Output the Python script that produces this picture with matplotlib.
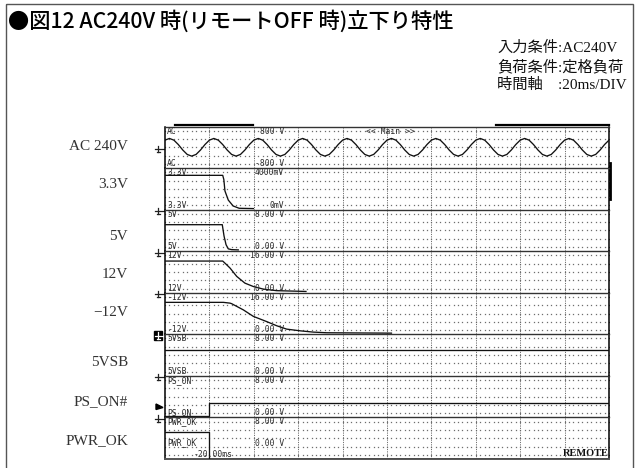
import matplotlib
matplotlib.use("Agg")
import matplotlib.pyplot as plt
from matplotlib.patches import Rectangle, Polygon
import numpy as np

# ---------------- data ----------------
time_range_ms = (-20, 180)          # 10 div x 20 ms/div
division_ms = 20

channel_names = ["AC", "3.3V", "5V", "12V", "-12V", "5VSB", "PS_ON", "PWR_OK"]
side_labels = ["AC 240V", "3.3V", "5V", "12V", "\u221212V", "5VSB", "PS_ON#", "PWR_OK"]
scale_top_labels = ["800 V", "4000mV", "8.00 V", "16.00 V", "16.00 V", "8.00 V", "8.00 V", "8.00 V"]
scale_bottom_labels = ["-800 V", "0mV", "0.00 V", "0.00 V", "0.00 V", "0.00 V", "0.00 V", "0.00 V"]
scale_min = [-800, 0, 0, 0, 0, 0, 0, 0]
scale_max = [800, 4000, 8, 16, 16, 8, 8, 8]

# AC input, sampled every 2 ms (V)
ac_t_ms = list(range(-20, 182, 2))
ac_v = [275, 340, 275, 105, -105, -275, -340, -275, -105, 105,
        275, 340, 275, 105, -105, -275, -340, -275, -105, 105,
        275, 340, 275, 105, -105, -275, -340, -275, -105, 105,
        275, 340, 275, 105, -105, -275, -340, -275, -105, 105,
        275, 340, 275, 105, -105, -275, -340, -275, -105, 105,
        275, 340, 275, 105, -105, -275, -340, -275, -105, 105,
        275, 340, 275, 105, -105, -275, -340, -275, -105, 105,
        275, 340, 275, 105, -105, -275, -340, -275, -105, 105,
        275, 340, 275, 105, -105, -275, -340, -275, -105, 105,
        275, 340, 275, 105, -105, -275, -340, -275, -105, 105,
        275]

v33_t = [-20, 6.0, 6.5, 7.0, 8.5, 10.7, 13.4, 19.8]
v33_mv = [3300, 3300, 2900, 1800, 920, 350, 130, 100]

v5_t = [-20, 5.8, 6.6, 7.5, 8.5, 10.0, 13.0]
v5_v = [5.1, 5.1, 2.9, 1.25, 0.45, 0.3, 0.25]

v12_t = [-20, 6.0, 7.5, 9.3, 12.3, 16.0, 19.8, 24.3, 30.3, 43.5]
v12_v = [12.2, 12.2, 11.0, 9.5, 6.3, 3.7, 2.4, 1.4, 0.8, 0.5]

vm12_t = [-20, 6.3, 9.3, 10.0, 15.3, 19.8, 25.8, 30.3, 34.8, 40.8, 46.8, 52.8, 82.0]
vm12_v = [12.3, 12.3, 12.0, 11.8, 9.4, 6.9, 4.9, 3.3, 2.0, 1.35, 0.85, 0.6, 0.45]

v5sb_t = [-20, 180]
v5sb_v = [5.0, 5.0]

pson_t = [-20, 0, 0, 180]
pson_v = [0.2, 0.2, 2.8, 2.8]

pwrok_t = [-20, 0, 0, 180]
pwrok_v = [5.2, 5.2, 0.0, 0.0]

series_t = [ac_t_ms, v33_t, v5_t, v12_t, vm12_t, v5sb_t, pson_t, pwrok_t]
series_v = [ac_v, v33_mv, v5_v, v12_v, vm12_v, v5sb_v, pson_v, pwrok_v]

title = "●図12 AC240V 時(リモートOFF 時)立下り特性"
conditions = ["入力条件:AC240V", "負荷条件:定格負荷", "時間軸\u3000:20ms/DIV"]
trigger_text = "-20.00ms"

# ---------------- figure ----------------
W, H = 638, 468
fig = plt.figure(figsize=(W / 100, H / 100), dpi=100)
deco = fig.add_axes([0, 0, 1, 1], zorder=0)
deco.set_xlim(0, W)
deco.set_ylim(H, 0)
deco.axis("off")

# outer frame
deco.add_patch(Rectangle((6, 3.5), 627, 490, fill=False, ec="#555555", lw=1.0))

cjk = ["Noto Sans CJK JP", "DejaVu Sans"]
mixed = ["Liberation Serif", "Noto Sans CJK JP"]
deco.text(8, 21, title, family=cjk, fontsize=15.3, weight="medium", ha="left", va="center",
          color="black")
for j, line in enumerate(conditions):
    deco.text(497, 48 + j * 18.5, line, family=mixed, fontsize=11, ha="left", va="center",
              color="#111111")

side_y = [147, 184, 236, 275, 312, 362, 402, 441]
for lab, y in zip(side_labels, side_y):
    deco.text(128, y, lab, family="Liberation Serif", fontsize=11, ha="right", va="center",
              color="#333333")

L, R, T, B = 165, 609, 126.5, 459
sh = (B - T) / 8
mono = dict(family="DejaVu Sans Mono", fontsize=5.8, color="#2a2a2a")
dots_x = np.arange(time_range_ms[0], time_range_ms[1] + 1, 2)

for i in range(8):
    top = T + i * sh
    ax = fig.add_axes([L / W, 1 - (top + sh) / H, (R - L) / W, sh / H], zorder=2)
    ax.patch.set_alpha(0)
    ax.set_xlim(*time_range_ms)
    ax.set_ylim(scale_min[i], scale_max[i])
    ax.set_xticks([])
    ax.set_yticks([])
    for s in ("left", "right"):
        ax.spines[s].set_color("black")
        ax.spines[s].set_linewidth(1.1)
    ax.spines["top"].set_color("#333333")
    ax.spines["top"].set_linewidth(1.0)
    if i == 7:
        ax.spines["bottom"].set_color("#555555")
        ax.spines["bottom"].set_linewidth(1.4)
    else:
        ax.spines["bottom"].set_visible(False)

    xt = ax.get_xaxis_transform()
    for k in range(5):
        yf = (k + 0.5) / 5
        ax.plot(dots_x, np.full(dots_x.shape, yf), transform=xt, ls="none", marker="s",
                ms=0.9, mew=0, color="#6e6e6e", zorder=1)
    for d in range(1, 10):
        ax.axvline(time_range_ms[0] + d * division_ms, color="#666666", lw=0.65,
                   ls=(0, (1.3, 1.3)), zorder=1)

    ax.plot(series_t[i], series_v[i], color="#111111", lw=0.95, zorder=3,
            solid_joinstyle="round")

    ty = 1 - 4.5 / sh
    by = 4.5 / sh if i < 7 else 16 / sh
    ax.text(0.005, ty, channel_names[i], transform=ax.transAxes, ha="left", va="center", **mono)
    ax.text(0.005, by, channel_names[i], transform=ax.transAxes, ha="left", va="center", **mono)
    sx = (284 - L) / (R - L)
    ax.text(sx, ty, scale_top_labels[i], transform=ax.transAxes, ha="right", va="center", **mono)
    ax.text(sx, by, scale_bottom_labels[i], transform=ax.transAxes, ha="right", va="center", **mono)
    if i == 0:
        ax.text((390 - L) / (R - L), ty, "<< Main >>", transform=ax.transAxes,
                ha="center", va="center", **mono)
    if i == 7:
        ax.text((213 - L) / (R - L), 4.5 / sh, trigger_text, transform=ax.transAxes,
                ha="center", va="center", **mono)

# scope status bars
deco.plot([175, 253], [125, 125], color="black", lw=1.6)
deco.plot([496, 609], [125, 125], color="black", lw=1.6)
deco.plot([609.8, 609.8], [163, 199], color="black", lw=2.0)
deco.text(586, 453, "REMOTE", family="Liberation Serif", fontsize=7.5, weight="bold",
          ha="center", va="center", color="#111111")


def ground(y0, filled=False):
    c = "white" if filled else "#222222"
    if filled:
        deco.add_patch(Rectangle((154, y0 - 4.5), 8, 8.5, color="black", zorder=3))
    deco.plot([155, 164], [y0, y0], color=c, lw=0.9, zorder=4)
    deco.plot([158, 158], [y0 - 3.5, y0 + 3], color=c, lw=0.9, zorder=4)
    deco.plot([156.5, 159.5], [y0 + 3, y0 + 3], color=c, lw=0.9, zorder=4)


ground(T + sh / 2 + 2)
for i in range(1, 7):
    ground(T + (i + 1) * sh + 1.5, filled=(i == 4))
deco.add_patch(Polygon([(156, 404), (163, 407.5), (156, 409.5)], closed=True, color="black"))

fig.savefig("out.png", dpi=100)
